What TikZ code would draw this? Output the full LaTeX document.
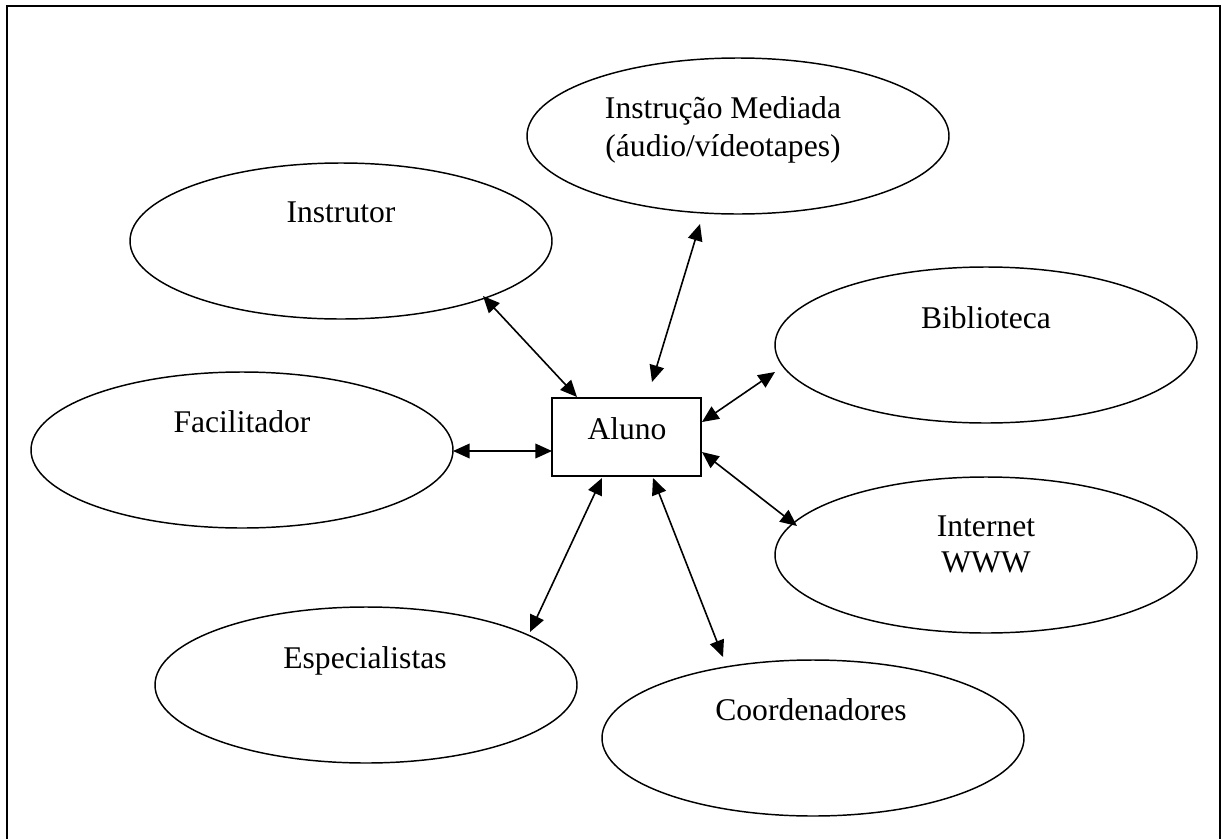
\documentclass[tikz,border=0pt]{standalone}
\usepackage{fontspec}
\setmainfont{Liberation Serif}
\usetikzlibrary{shapes.geometric,arrows.meta}
\begin{document}
\begin{tikzpicture}[x=0.75pt,y=-0.75pt,
  bubble/.style={draw,ellipse,line width=1.1pt,inner sep=0pt,outer sep=0pt,minimum width=316.5pt,minimum height=117pt},
  centerbox/.style={draw,rectangle,line width=1.1pt,inner sep=0pt,outer sep=0pt,minimum width=111.75pt,minimum height=58.5pt},
  lbl/.style={anchor=base,inner sep=0pt,font=\fontsize{23.7}{27.75}\selectfont},
  dblarrow/.style={line width=1.2pt,{Triangle[length=12.5pt,width=11pt]}-{Triangle[length=12.5pt,width=11pt]}},
  frameline/.style={line width=1.5pt}]
\useasboundingbox (0,0) rectangle (1221,839);
\draw[frameline] (7,839) -- (7,6) -- (1220,6) -- (1220,839);
% ellipses
\node[bubble] (mediada) at (738,136) {};
\node[bubble] (instrutor) at (341,241) {};
\node[bubble] (biblioteca) at (986,345) {};
\node[bubble] (facilitador) at (242,450) {};
\node[bubble] (internet) at (986,555) {};
\node[bubble] (especialistas) at (366,685) {};
\node[bubble] (coordenadores) at (813,738) {};
\node[centerbox] (aluno) at (626.5,437) {};
% labels
\node[lbl] (tmed1) at (723,118.3) {Instrução Mediada};
\node[lbl] (tmed2) at (723,156) {(áudio/vídeotapes)};
\node[lbl] (tinst) at (341,222.7) {Instrutor};
\node[lbl] (tbib) at (986,328) {Biblioteca};
\node[lbl] (tfac) at (242,432) {Facilitador};
\node[lbl] (tint1) at (986,536) {Internet};
\node[lbl] (tint2) at (986,572.7) {WWW};
\node[lbl] (tesp) at (365,668) {Especialistas};
\node[lbl] (tcoo) at (811,720) {Coordenadores};
\node[lbl] (talu) at (627,439) {Aluno};
% connector end points
\coordinate (aInstr) at (577,397);
\coordinate (eInstr) at (483,296);
\coordinate (aMed) at (652,382);
\coordinate (eMed) at (700,224);
\coordinate (aFac) at (552,451);
\coordinate (eFac) at (453,451);
\coordinate (aBib) at (702,422);
\coordinate (eBib) at (775,372);
\coordinate (aInt) at (702,452);
\coordinate (eInt) at (797,526);
\coordinate (aEsp) at (602,478);
\coordinate (eEsp) at (530,632);
\coordinate (aCoo) at (653,478);
\coordinate (eCoo) at (723,657);
\draw[dblarrow] (eInstr) -- (aInstr);
\draw[dblarrow] (eMed) -- (aMed);
\draw[dblarrow] (eFac) -- (aFac);
\draw[dblarrow] (eBib) -- (aBib);
\draw[dblarrow] (eInt) -- (aInt);
\draw[dblarrow] (eEsp) -- (aEsp);
\draw[dblarrow] (eCoo) -- (aCoo);
\end{tikzpicture}
\end{document}
